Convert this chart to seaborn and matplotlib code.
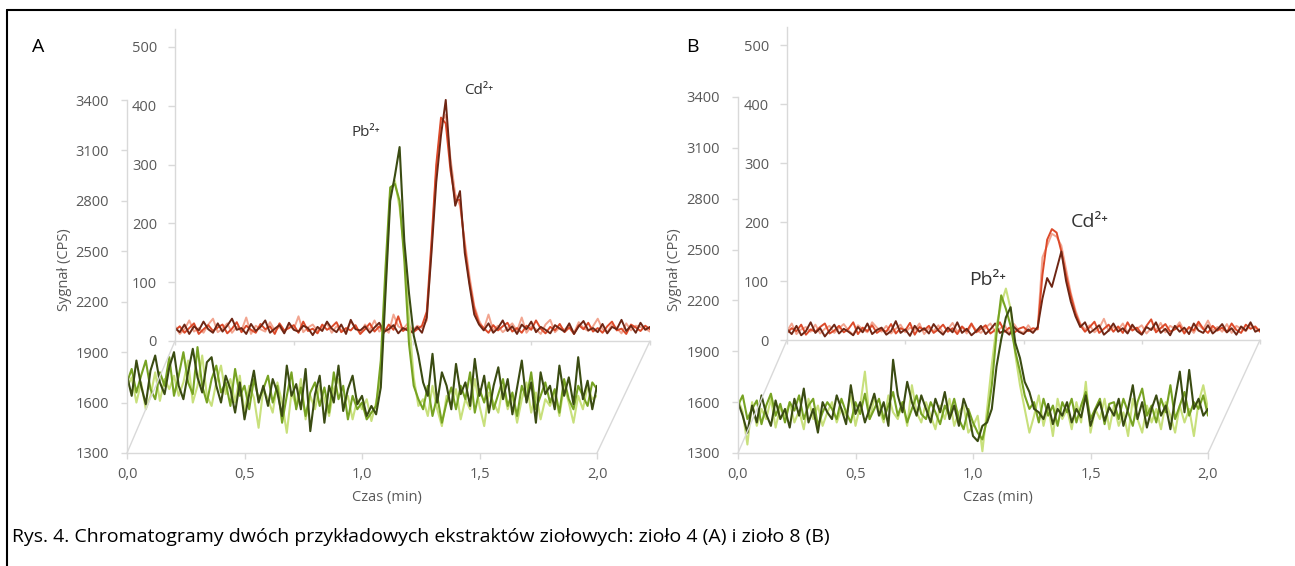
import numpy as np
import pandas as pd
import matplotlib
matplotlib.use("Agg")
import matplotlib.pyplot as plt
from matplotlib.patches import ConnectionPatch
from matplotlib.lines import Line2D
import seaborn as sns

# ---------------------------------------------------------------------------
# Data: signal (CPS) sampled every 0.02 min from 0.0 to 2.0 min
# ---------------------------------------------------------------------------
time_min = np.linspace(0.0, 2.0, 101)

# Herb 4 (A) - Cd2+ channel (back plane, 0-500 CPS)
a_cd_1 = [22, 15, 28, 12, 25, 18, 33, 20, 14, 30,
          16, 26, 38, 19, 22, 12, 29, 17, 24, 35,
          14, 21, 27, 13, 31, 19, 16, 26, 22, 10,
          24, 17, 33, 21, 15, 28, 12, 36, 20, 18,
          25, 14, 23, 31, 16, 20, 27, 13, 22, 18,
          15, 24, 14, 40, 150, 270, 350, 410, 300, 230,
          255, 150, 95, 45, 28, 18, 30, 14, 22, 35,
          17, 25, 12, 28, 20, 33, 15, 24, 19, 13,
          27, 21, 16, 30, 12, 25, 34, 18, 22, 15,
          29, 13, 24, 20, 36, 17, 26, 14, 31, 19,
          24]
a_cd_2 = [18, 25, 14, 22, 30, 12, 20, 27, 17, 23,
          28, 13, 21, 32, 15, 26, 19, 14, 29, 20,
          25, 12, 30, 18, 22, 27, 14, 33, 17, 21,
          13, 28, 19, 24, 32, 15, 22, 18, 27, 12,
          20, 30, 16, 25, 14, 28, 19, 42, 17, 23,
          14, 20, 26, 50, 170, 300, 380, 370, 290, 240,
          240, 160, 100, 55, 30, 22, 14, 27, 18, 25,
          31, 16, 22, 14, 26, 19, 35, 21, 13, 24,
          18, 29, 15, 23, 12, 27, 20, 31, 16, 22,
          14, 25, 33, 18, 21, 12, 28, 23, 17, 26,
          20]
a_cd_3 = [25, 12, 20, 35, 16, 22, 14, 28, 38, 15,
          21, 30, 14, 24, 18, 40, 12, 26, 20, 16,
          32, 18, 24, 14, 27, 20, 42, 15, 23, 28,
          17, 22, 30, 14, 25, 19, 16, 33, 24, 12,
          28, 19, 35, 16, 22, 14, 45, 25, 20, 30,
          18, 26, 22, 35, 160, 290, 370, 385, 310, 250,
          230, 170, 110, 60, 35, 20, 45, 18, 26, 15,
          22, 30, 17, 40, 14, 25, 20, 12, 28, 36,
          15, 23, 19, 27, 14, 32, 22, 17, 25, 38,
          20, 15, 28, 22, 13, 30, 18, 26, 24, 21,
          16]

# Herb 4 (A) - Pb2+ channel (front plane, 1300-3400 CPS)
a_pb_1 = [1760, 1640, 1850, 1700, 1590, 1790, 1880, 1720, 1650, 1810,
          1900, 1700, 1620, 1780, 1920, 1750, 1660, 1840, 1870, 1700,
          1600, 1760, 1680, 1540, 1720, 1500, 1650, 1790, 1600, 1700,
          1580, 1740, 1660, 1520, 1820, 1640, 1710, 1560, 1800, 1430,
          1650, 1760, 1480, 1700, 1600, 1820, 1550, 1680, 1760, 1590,
          1640, 1520, 1580, 1530, 1690, 2250, 2800, 2950, 3120, 2560,
          2250, 2000, 1880, 1720, 1640, 1890, 1600, 1780, 1700, 1560,
          1830, 1650, 1720, 1580, 1860, 1640, 1760, 1540, 1700, 1810,
          1620, 1740, 1530, 1690, 1850, 1600, 1720, 1480, 1780, 1650,
          1700, 1560, 1820, 1640, 1750, 1590, 1870, 1620, 1730, 1560,
          1700]
a_pb_2 = [1720, 1800, 1660, 1760, 1850, 1680, 1620, 1780, 1700, 1870,
          1640, 1760, 1900, 1720, 1650, 1930, 1700, 1600, 1740, 1820,
          1660, 1720, 1580, 1800, 1640, 1700, 1560, 1740, 1620, 1680,
          1760, 1600, 1700, 1480, 1640, 1780, 1560, 1690, 1520, 1660,
          1720, 1580, 1690, 1540, 1780, 1620, 1700, 1500, 1640, 1560,
          1600, 1500, 1540, 1580, 1850, 2400, 2880, 2900, 2800, 2450,
          1950, 1700, 1620, 1560, 1700, 1520, 1640, 1480, 1600, 1690,
          1560, 1700, 1620, 1780, 1540, 1680, 1600, 1720, 1560, 1650,
          1740, 1580, 1660, 1520, 1700, 1620, 1780, 1560, 1640, 1720,
          1600, 1680, 1540, 1740, 1620, 1560, 1700, 1640, 1580, 1720,
          1680]
a_pb_3 = [1690, 1750, 1600, 1720, 1560, 1640, 1780, 1610, 1740, 1680,
          1760, 1640, 1720, 1850, 1600, 1700, 1880, 1640, 1580, 1720,
          1820, 1650, 1740, 1600, 1760, 1540, 1700, 1630, 1450, 1680,
          1620, 1540, 1720, 1600, 1420, 1660, 1580, 1740, 1500, 1640,
          1560, 1700, 1620, 1520, 1680, 1740, 1580, 1640, 1500, 1620,
          1560, 1620, 1490, 1600, 1750, 2300, 2850, 2920, 2760, 2500,
          2100, 1750, 1580, 1620, 1520, 1700, 1560, 1460, 1640, 1580,
          1680, 1500, 1620, 1560, 1740, 1580, 1460, 1660, 1600, 1540,
          1700, 1560, 1640, 1480, 1620, 1720, 1540, 1660, 1500, 1620,
          1580, 1660, 1520, 1700, 1600, 1480, 1640, 1560, 1700, 1620,
          1640]

# Herb 8 (B) - Cd2+ channel (back plane)
b_cd_1 = [18, 10, 24, 8, 15, 30, 12, 20, 6, 16,
          26, 11, 19, 14, 8, 22, 13, 28, 10, 17,
          21, 9, 15, 32, 12, 18, 7, 24, 14, 20,
          11, 27, 16, 9, 21, 13, 30, 12, 19, 8,
          15, 24, 10, 18, 28, 12, 16, 9, 22, 14,
          10, 18, 12, 22, 70, 105, 90, 120, 150, 100,
          65, 40, 22, 30, 12, 18, 25, 9, 16, 28,
          14, 20, 11, 26, 15, 9, 22, 17, 30, 12,
          19, 8, 24, 14, 21, 10, 28, 16, 12, 25,
          11, 18, 27, 13, 20, 9, 23, 16, 30, 14,
          18]
b_cd_2 = [12, 20, 15, 26, 9, 18, 14, 22, 28, 11,
          16, 24, 13, 19, 30, 10, 21, 15, 25, 12,
          18, 14, 27, 11, 20, 16, 29, 9, 22, 17,
          24, 12, 18, 26, 14, 20, 10, 23, 15, 28,
          13, 19, 25, 11, 17, 30, 14, 21, 12, 19,
          22, 15, 20, 18, 110, 170, 188, 182, 150, 110,
          75, 45, 25, 14, 22, 31, 12, 19, 26, 14,
          23, 12, 30, 16, 21, 10, 24, 35, 13, 20,
          27, 14, 18, 25, 11, 22, 16, 31, 19, 12,
          24, 16, 21, 13, 28, 17, 12, 26, 19, 23,
          14]
b_cd_3 = [15, 28, 10, 18, 22, 14, 26, 11, 19, 24,
          12, 20, 27, 16, 9, 25, 18, 13, 30, 21,
          14, 24, 11, 19, 26, 13, 21, 17, 28, 10,
          20, 15, 25, 12, 18, 29, 14, 22, 11, 26,
          17, 12, 21, 28, 14, 19, 25, 11, 27, 16,
          12, 25, 14, 20, 140, 160, 180, 175, 160, 120,
          80, 50, 28, 18, 25, 13, 20, 36, 15, 22,
          17, 28, 13, 22, 19, 25, 11, 20, 16, 29,
          13, 24, 19, 30, 15, 21, 12, 26, 18, 33,
          16, 22, 14, 27, 12, 24, 19, 15, 26, 20,
          17]

# Herb 8 (B) - Pb2+ channel (front plane)
b_pb_1 = [1600, 1520, 1420, 1580, 1480, 1640, 1530, 1460, 1610, 1500,
          1560, 1450, 1620, 1520, 1680, 1480, 1560, 1420, 1600, 1540,
          1500, 1640, 1560, 1470, 1700, 1530, 1600, 1480, 1560, 1650,
          1520, 1600, 1460, 1850, 1640, 1540, 1720, 1600, 1520, 1640,
          1560, 1480, 1620, 1540, 1660, 1500, 1580, 1460, 1620, 1540,
          1400, 1370, 1460, 1480, 1560, 1810, 1970, 2100, 2160, 1950,
          1860, 1720, 1660, 1560, 1540, 1500, 1590, 1470, 1560, 1520,
          1600, 1480, 1560, 1510, 1640, 1460, 1550, 1600, 1490, 1570,
          1520, 1620, 1460, 1560, 1700, 1500, 1600, 1450, 1560, 1640,
          1520, 1580, 1440, 1620, 1780, 1540, 1790, 1560, 1620, 1520,
          1560]
b_pb_2 = [1580, 1640, 1500, 1560, 1610, 1470, 1580, 1650, 1520, 1590,
          1480, 1600, 1550, 1640, 1500, 1580, 1620, 1460, 1540, 1600,
          1560, 1500, 1620, 1540, 1480, 1600, 1530, 1650, 1500, 1560,
          1620, 1500, 1580, 1660, 1520, 1600, 1480, 1560, 1640, 1530,
          1500, 1600, 1540, 1470, 1580, 1520, 1620, 1500, 1440, 1560,
          1480, 1420, 1380, 1500, 1700, 2000, 2230, 2150, 2050, 1900,
          1780, 1640, 1560, 1600, 1480, 1620, 1520, 1580, 1460, 1600,
          1540, 1620, 1480, 1580, 1660, 1500, 1560, 1620, 1470, 1590,
          1600, 1500, 1620, 1540, 1460, 1600, 1680, 1520, 1580, 1480,
          1620, 1540, 1700, 1500, 1580, 1660, 1520, 1600, 1560, 1640,
          1520]
b_pb_3 = [1620, 1540, 1350, 1600, 1460, 1560, 1500, 1620, 1450, 1570,
          1520, 1600, 1480, 1550, 1440, 1620, 1500, 1580, 1460, 1540,
          1600, 1480, 1560, 1520, 1640, 1460, 1580, 1780, 1500, 1620,
          1560, 1480, 1640, 1540, 1500, 1600, 1460, 1700, 1540, 1480,
          1600, 1520, 1440, 1580, 1500, 1620, 1460, 1540, 1580, 1420,
          1460, 1520, 1310, 1560, 1820, 2050, 2180, 2270, 2150, 1880,
          1700, 1560, 1420, 1520, 1640, 1460, 1580, 1400, 1620, 1500,
          1560, 1440, 1600, 1480, 1720, 1420, 1560, 1500, 1620, 1440,
          1580, 1460, 1540, 1400, 1620, 1500, 1420, 1580, 1480, 1560,
          1440, 1600, 1520, 1420, 1580, 1480, 1560, 1400, 1600, 1700,
          1560]

# Axis ticks and labels
x_ticks = [0.0, 0.5, 1.0, 1.5, 2.0]
x_tick_labels = ["0,0", "0,5", "1,0", "1,5", "2,0"]
front_y_ticks = [1300, 1600, 1900, 2200, 2500, 2800, 3100, 3400]
back_y_ticks = [0, 100, 200, 300, 400, 500]

cd_palette = ["#f2a590", "#dc4a2a", "#6e2614"]
pb_palette = ["#c8e07c", "#77a323", "#3a4b12"]

caption = ("Rys. 4. Chromatogramy dwóch przykładowych ekstraktów ziołowych: "
           "zioło 4 (A) i zioło 8 (B)")


def long_frame(series):
    frames = []
    for name, vals in series.items():
        frames.append(pd.DataFrame({"t": time_min, "cps": vals, "run": name}))
    return pd.concat(frames, ignore_index=True)


# ---------------------------------------------------------------------------
# Figure
# ---------------------------------------------------------------------------
sns.set_theme(style="white")
plt.rcParams["font.family"] = ["Open Sans", "DejaVu Sans"]

W, H = 1295, 566
fig = plt.figure(figsize=(W / 100, H / 100), dpi=100)
fig.patch.set_facecolor("white")

GRID = "#d9d9d9"
TXT = "#595959"
TICK_FS = 10.5


def px_axes(left, top, right, bottom):
    return fig.add_axes([left / W, 1 - bottom / H, (right - left) / W, (bottom - top) / H])


def style_common(ax):
    ax.patch.set_visible(False)
    ax.grid(False)
    for side in ("top", "right"):
        ax.spines[side].set_visible(False)
    for side in ("left", "bottom"):
        ax.spines[side].set_color(GRID)
        ax.spines[side].set_linewidth(1.0)
    ax.set_xlabel("")
    ax.set_ylabel("")
    ax.set_xlim(0, 2)


def draw_panel(letter, letter_x, front_box, back_box, back_scale, cd, pb,
               pb_pos, cd_pos, label_size, ylab_x, xlab_x):
    # back plane (Cd2+)
    top_b = back_box[3] - 530 * back_scale
    back = px_axes(back_box[0], top_b, back_box[2], back_box[3])
    sns.lineplot(data=long_frame(cd), x="t", y="cps", hue="run", palette=cd_palette,
                 hue_order=list(cd.keys()), linewidth=1.4, legend=False, ax=back)
    style_common(back)
    back.set_ylim(0, 530)
    back.set_yticks(back_y_ticks)
    back.set_xticks(x_ticks)
    back.set_xticklabels([])
    back.tick_params(axis="y", length=5, width=1, color=GRID, labelcolor=TXT,
                     labelsize=TICK_FS, pad=8, left=True)
    back.tick_params(axis="x", length=3, width=1, color=GRID, bottom=True)

    # front plane (Pb2+)
    front = px_axes(*front_box)
    sns.lineplot(data=long_frame(pb), x="t", y="cps", hue="run", palette=pb_palette,
                 hue_order=list(pb.keys()), linewidth=1.5, legend=False, ax=front)
    style_common(front)
    front.set_ylim(1300, 3400)
    front.set_yticks(front_y_ticks)
    front.set_xticks(x_ticks)
    front.set_xticklabels(x_tick_labels)
    front.tick_params(axis="y", length=4, width=1, color=GRID, labelcolor=TXT,
                      labelsize=TICK_FS, pad=9, left=True)
    front.tick_params(axis="x", length=4, width=1, color=GRID, labelcolor=TXT,
                      labelsize=TICK_FS, pad=6, bottom=True)

    # floor edges joining the two planes
    for xa in (0, 1):
        fig.add_artist(ConnectionPatch(xyA=(xa, 0), coordsA=front.transAxes,
                                       xyB=(xa, 0), coordsB=back.transAxes,
                                       color=GRID, lw=1.0))

    fig.text(ylab_x / W, 1 - 270 / H, "Sygnał (CPS)", rotation=90, color=TXT,
             fontsize=10.5, ha="center", va="center")
    fig.text(xlab_x / W, 1 - 497 / H, "Czas (min)", color=TXT,
             fontsize=10.5, ha="center", va="center")
    fig.text(letter_x / W, 1 - 47 / H, letter, color="black",
             fontsize=14, ha="center", va="center")
    fig.text(pb_pos[0] / W, 1 - pb_pos[1] / H, "Pb²⁺", color="#333333",
             fontsize=label_size, ha="center", va="center")
    fig.text(cd_pos[0] / W, 1 - cd_pos[1] / H, "Cd²⁺", color="#333333",
             fontsize=label_size, ha="center", va="center")


draw_panel("A", 38, (127, 100, 597, 453), (175, None, 650, 341), 0.588,
           {"1": a_cd_3, "2": a_cd_2, "3": a_cd_1},
           {"1": a_pb_3, "2": a_pb_2, "3": a_pb_1},
           (366, 132), (479, 90), 11, 64, 387)

draw_panel("B", 692, (738, 97, 1208, 453), (787, None, 1260, 340), 0.59,
           {"1": b_cd_3, "2": b_cd_2, "3": b_cd_1},
           {"1": b_pb_3, "2": b_pb_2, "3": b_pb_1},
           (988, 280), (1090, 222), 14, 675, 998)

# frame and caption
fig.add_artist(Line2D([7 / W, 1.0], [1 - 10 / H, 1 - 10 / H], transform=fig.transFigure,
                      color="black", lw=1.5))
fig.add_artist(Line2D([7 / W, 7 / W], [1 - 10 / H, 0.0], transform=fig.transFigure,
                      color="black", lw=1.5))
fig.text(12 / W, 1 - 537 / H, caption, color="black", fontsize=14,
         ha="left", va="center")

fig.savefig("out.png", dpi=100, facecolor="white")
